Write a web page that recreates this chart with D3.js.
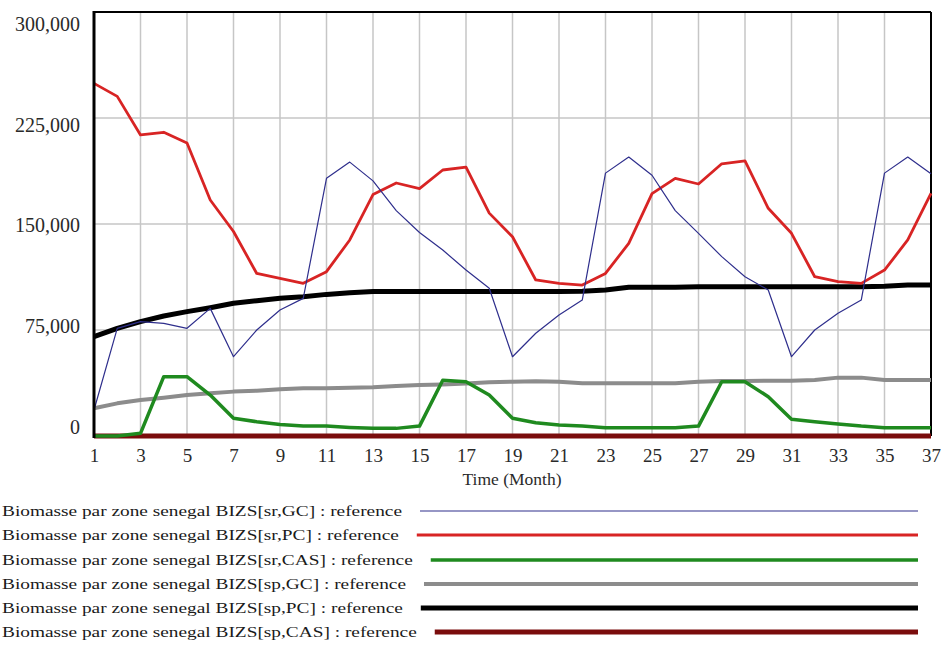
<!DOCTYPE html>
<html>
<head>
<meta charset="utf-8">
<script src="https://cdn.jsdelivr.net/npm/d3@7"></script>
<style>
  html, body { margin: 0; padding: 0; background: #fff; }
  svg { display: block; }
  text { font-family: "Liberation Serif", "Times New Roman", serif; }
</style>
</head>
<body>
<svg id="chart" width="941" height="646"></svg>
<script>
// ---- data ----
const months = [1,2,3,4,5,6,7,8,9,10,11,12,13,14,15,16,17,18,19,20,21,22,23,24,25,26,27,28,29,30,31,32,33,34,35,36,37];
const xTickLabels = [1,3,5,7,9,11,13,15,17,19,21,23,25,27,29,31,33,35,37];
const yTickValues = [0,75000,150000,225000,300000];

const srGC = [18400,76200,80900,79700,76200,90300,56100,75000,89100,97400,182300,193800,180500,159500,144000,131600,117400,104500,56100,72700,85600,96200,186000,197400,184500,159500,143400,126900,112700,103300,56100,75000,86800,96200,186000,197400,185600];
const srPC = [249500,240300,213000,214900,207300,167000,144700,115000,111500,108000,116300,138700,170800,179000,175000,188200,190300,157700,141000,110400,108000,106800,115000,136300,171500,182300,178300,192600,194600,161100,143400,112700,109200,108000,117400,138700,171700];
const srCAS = [0,0,1900,42000,42000,29000,12500,10100,8200,7000,7000,6100,5400,5400,7000,39400,38400,29000,12500,9400,7800,7000,5900,5900,5900,5900,7000,38400,38400,27800,11800,10100,8500,7000,5900,5900,5900];
const spGC = [19600,23100,25500,27100,29000,30200,31400,32100,33000,33700,33700,34200,34500,35400,36000,36500,37100,38000,38400,38700,38400,37300,37300,37300,37300,37300,38400,38900,38900,39100,39100,39600,41300,41300,39600,39600,39600];
const spPC = [70300,76200,80900,84900,88000,90800,93900,95700,97400,98600,100200,101400,102200,102200,102200,102200,102200,102200,102200,102200,102200,102400,103300,105200,105200,105200,105600,105600,105600,105600,105600,105600,105600,105600,106000,106800,106800];
const spCAS = [0,0,0,0,0,0,0,0,0,0,0,0,0,0,0,0,0,0,0,0,0,0,0,0,0,0,0,0,0,0,0,0,0,0,0,0,0];

const seriesNames = [
  "Biomasse par zone senegal BIZS[sr,GC] : reference",
  "Biomasse par zone senegal BIZS[sr,PC] : reference",
  "Biomasse par zone senegal BIZS[sr,CAS] : reference",
  "Biomasse par zone senegal BIZS[sp,GC] : reference",
  "Biomasse par zone senegal BIZS[sp,PC] : reference",
  "Biomasse par zone senegal BIZS[sp,CAS] : reference"
];
const seriesValues = [srGC, srPC, srCAS, spGC, spPC, spCAS];
const seriesColors = ["#2e2e8c", "#d82424", "#1f8a1f", "#8c8c8c", "#000000", "#7a0c0c"];
const seriesWidths = [1.2, 2.8, 3.5, 4, 5, 5];
const xAxisTitle = "Time (Month)";

// ---- layout ----
const svg = d3.select("#chart");
const x = d3.scaleLinear().domain([1, 37]).range([94, 931]);
const y = d3.scaleLinear().domain([0, 300000]).range([436, 12]);
// Vensim places the value labels on an evenly spread scale slightly offset from the grid
const yLab = d3.scaleLinear().domain([0, 300000]).range([427, 24]);

// gridlines
const g = svg.append("g");
g.selectAll("line.vg").data(xTickLabels.filter(d => d > 1 && d < 37)).join("line")
  .attr("x1", d => x(d)).attr("x2", d => x(d))
  .attr("y1", y(300000)).attr("y2", y(0))
  .attr("stroke", "#c6c6c6").attr("stroke-width", 1.5);
g.selectAll("line.hg").data(yTickValues.filter(d => d > 0 && d < 300000)).join("line")
  .attr("x1", x(1)).attr("x2", x(37))
  .attr("y1", d => y(d)).attr("y2", d => y(d))
  .attr("stroke", "#c6c6c6").attr("stroke-width", 1.5);

// frame
svg.append("line").attr("x1", x(1)).attr("x2", x(37)).attr("y1", y(300000)).attr("y2", y(300000))
  .attr("stroke", "#000").attr("stroke-width", 2);
svg.append("line").attr("x1", x(37)).attr("x2", x(37)).attr("y1", y(300000)).attr("y2", y(0))
  .attr("stroke", "#000").attr("stroke-width", 2);
svg.append("line").attr("x1", x(1)).attr("x2", x(37)).attr("y1", y(0)).attr("y2", y(0))
  .attr("stroke", "#000").attr("stroke-width", 2);

// lines (first series drawn on top)
const line = d3.line().x((d, i) => x(months[i])).y(d => y(d));
const order = [5, 4, 3, 2, 1, 0];
order.forEach(k => {
  svg.append("path")
    .datum(seriesValues[k])
    .attr("d", line)
    .attr("fill", "none")
    .attr("stroke", seriesColors[k])
    .attr("stroke-width", seriesWidths[k])
    .attr("stroke-linejoin", "round");
});

// left axis line (thick)
svg.append("line").attr("x1", x(1)).attr("x2", x(1)).attr("y1", y(300000) - 1).attr("y2", y(0) + 2)
  .attr("stroke", "#000").attr("stroke-width", 3);

// y labels
const yAxis = svg.append("g").attr("transform", "translate(80,0)")
  .call(d3.axisLeft(yLab).tickValues(yTickValues).tickSize(0).tickPadding(0).tickFormat(d3.format(",")));
yAxis.select(".domain").remove();
yAxis.selectAll("text").attr("font-size", 20).attr("fill", "#2a2a2a")
  .style("font-family", "'Liberation Serif', serif");

// x labels
const xAxis = svg.append("g").attr("transform", `translate(0,${y(0)})`)
  .call(d3.axisBottom(x).tickValues(xTickLabels).tickSize(0).tickPadding(13).tickFormat(d3.format("d")));
xAxis.select(".domain").remove();
xAxis.selectAll("text").attr("font-size", 19).attr("fill", "#2a2a2a")
  .style("font-family", "'Liberation Serif', serif");

svg.append("text").attr("x", 512).attr("y", 485).attr("text-anchor", "middle")
  .attr("font-size", 17.5).attr("fill", "#2a2a2a").text(xAxisTitle);

// legend
const legendY = [511, 535, 560, 584, 608, 632];
const leg = svg.append("g");
const texts = seriesNames.map((name, i) =>
  leg.append("text").attr("x", 2).attr("y", legendY[i] + 5)
    .attr("font-size", 15.5).attr("fill", "#1a1a1a").text(name));
const natural0 = texts[0].node().getComputedTextLength();
const k = 400 / natural0;
texts.forEach((t, i) => {
  const w = t.node().getComputedTextLength() * k;
  t.attr("textLength", w).attr("lengthAdjust", "spacingAndGlyphs");
  leg.append("line").attr("x1", 2 + w + 18).attr("x2", 918)
    .attr("y1", legendY[i]).attr("y2", legendY[i])
    .attr("stroke", seriesColors[i]).attr("stroke-width", seriesWidths[i]);
});
</script>
</body>
</html>
